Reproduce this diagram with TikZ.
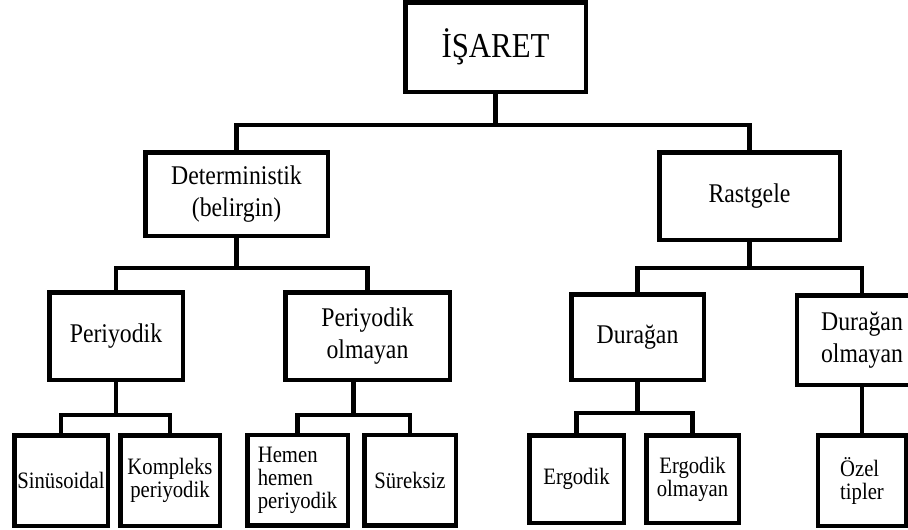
\documentclass[tikz,border=0pt]{standalone}
\usepackage{fontspec}
\setmainfont[FakeStretch=0.88]{Liberation Serif}
\usepackage{tikz}
\usetikzlibrary{calc}

\tikzset{
  kutu/.style={draw, line width=4.5pt, inner sep=0pt, align=center, font=\fontsize{27}{32}\selectfont},
  alt/.style={kutu, font=\fontsize{23.5}{23}\selectfont},
  bag/.style={line width=4.5pt}
}

\begin{document}
\begin{tikzpicture}[x=1pt, y=-1pt]
        \useasboundingbox (0,0) rectangle (908,530);
        \clip (0,0) rectangle (908,530);
        \fill[white] (0,0) rectangle (908,530);
        % kok ve ilk seviye
        \node[kutu, minimum width=180.5pt, minimum height=89.5pt, font=\fontsize{35}{40}\selectfont] (isaret) at (495.5,47) {İŞARET};
        \node[kutu, minimum width=182.5pt, minimum height=83.5pt] (det) at (236.5,194) {Deterministik\\(belirgin)};
        \node[kutu, minimum width=180.5pt, minimum height=87.5pt] (rast) at (749.5,196) {Rastgele};
        % ikinci seviye
        \node[kutu, minimum width=133.5pt, minimum height=87.5pt] (per) at (116,336) {Periyodik};
        \node[kutu, minimum width=164.5pt, minimum height=87.5pt] (perolm) at (367.5,336) {Periyodik\\olmayan};
        \node[kutu, minimum width=132.5pt, minimum height=85.5pt] (dur) at (637.5,337) {Durağan};
        \node[kutu, minimum width=130pt, minimum height=89.5pt] (durolm) at (862,340) {Durağan\\olmayan};
        % yapraklar
        \node[alt, minimum width=93.5pt, minimum height=90.5pt] (sin) at (61,480.5) {Sinüsoidal};
        \node[alt, minimum width=99.5pt, minimum height=90.5pt] (komp) at (170,480.5) {Kompleks\\periyodik};
        \node[alt, minimum width=100.5pt, minimum height=90.5pt, align=left] (hemen) at (297.5,480) {Hemen\\hemen\\periyodik};
        \node[alt, minimum width=91.5pt, minimum height=90.5pt] (sureksiz) at (410,480) {Süreksiz};
        \node[alt, minimum width=94.5pt, minimum height=87.5pt] (ergodik) at (576.5,479) {Ergodik};
        \node[alt, minimum width=92.5pt, minimum height=87.5pt] (ergolm) at (692.5,479) {Ergodik\\olmayan};
        \node[alt, minimum width=88.5pt, minimum height=90.5pt, align=left] (ozel) at (862,480.5) {Özel\\tipler};
        % baglantilar
        \draw[bag] (isaret.south) -- ++(0,31) -| (det.north);
        \draw[bag] (isaret.south) -- ++(0,31) -| (rast.north);
        \draw[bag] (det.south) -- ++(0,30) -| (per.north);
        \draw[bag] (det.south) -- ++(0,30) -| (perolm.north);
        \draw[bag] (rast.south) -- ++(0,26) -| (dur.north);
        \draw[bag] (rast.south) -- ++(0,26) -| (durolm.north);
        \draw[bag] (per.south) -- ++(0,33) -| (sin.north);
        \draw[bag] (per.south) -- ++(0,33) -| (komp.north);
        \draw[bag] ([xshift=-14pt]perolm.south) -- ++(0,33) -| (hemen.north);
        \draw[bag] ([xshift=-14pt]perolm.south) -- ++(0,33) -| (sureksiz.north);
        \draw[bag] (dur.south) -- ++(0,31) -| (ergodik.north);
        \draw[bag] (dur.south) -- ++(0,31) -| (ergolm.north);
        \draw[bag] (durolm.south) -- (ozel.north);
    \end{tikzpicture}
\end{document}
